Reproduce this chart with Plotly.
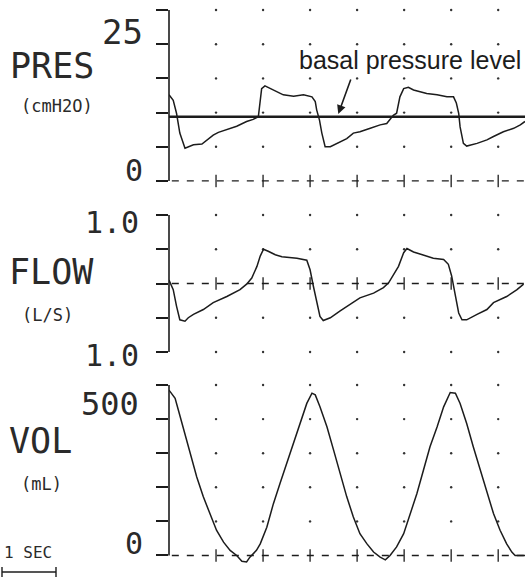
import plotly.graph_objects as go
import numpy as np

# ---------------- data ----------------
T_END = 7.57
GRID_SECONDS = [1, 2, 3, 4, 5, 6, 7]

PRES_TICKS = [0, 5, 10, 15, 20, 25]
FLOW_TICKS = [-1.0, -0.5, 0.0, 0.5, 1.0]
VOL_TICKS = [0, 100, 200, 300, 400, 500]

BASAL_PRESSURE = 9.4

pres_t = [0.0, 0.09, 0.16, 0.23, 0.34, 0.41, 0.52, 0.70, 0.80, 0.94, 1.05, 1.23, 1.44, 1.65,
          1.79, 1.90, 1.94, 1.97, 2.04, 2.15, 2.29, 2.43, 2.65, 2.86, 3.04, 3.11, 3.14, 3.20,
          3.25, 3.32, 3.43, 3.57, 3.78, 3.92, 4.06, 4.28, 4.49, 4.63, 4.74, 4.77, 4.84, 4.91,
          4.99, 5.09, 5.20, 5.34, 5.48, 5.70, 5.91, 6.05, 6.11, 6.16, 6.19, 6.26, 6.33, 6.55,
          6.76, 6.90, 7.11, 7.33, 7.47, 7.57]
pres_v = [12.6, 11.8, 9.9, 7.0, 4.8, 5.0, 5.3, 5.4, 6.0, 6.7, 7.1, 7.5, 8.0, 8.7,
          9.0, 9.4, 11.4, 13.5, 13.9, 13.5, 13.1, 12.6, 12.4, 12.6, 12.3, 11.6, 10.4, 8.9,
          7.0, 5.0, 5.0, 5.5, 6.2, 7.0, 7.2, 7.7, 8.2, 8.4, 9.4, 9.6, 9.9, 12.3,
          13.5, 13.7, 13.3, 13.1, 12.8, 12.6, 12.3, 12.3, 11.4, 9.9, 7.9, 5.5, 5.1, 5.5,
          6.0, 6.5, 7.2, 7.7, 8.2, 8.7]

flow_t = [0.0, 0.09, 0.16, 0.23, 0.34, 0.41, 0.52, 0.73, 0.94, 1.23, 1.51, 1.65, 1.76, 1.87,
          1.94, 2.01, 2.11, 2.26, 2.40, 2.54, 2.72, 2.93, 3.00, 3.07, 3.14, 3.21, 3.28, 3.43,
          3.64, 3.85, 4.06, 4.35, 4.56, 4.67, 4.77, 4.88, 4.99, 5.06, 5.20, 5.41, 5.62, 5.84,
          5.94, 6.01, 6.09, 6.16, 6.23, 6.33, 6.55, 6.76, 6.90, 7.18, 7.40, 7.54]
flow_v = [0.05, -0.09, -0.33, -0.53, -0.55, -0.50, -0.45, -0.38, -0.28, -0.19, -0.09, -0.01, 0.08, 0.25,
          0.40, 0.50, 0.47, 0.42, 0.39, 0.38, 0.37, 0.34, 0.20, -0.04, -0.28, -0.48, -0.54, -0.50,
          -0.40, -0.31, -0.21, -0.14, -0.06, 0.01, 0.13, 0.25, 0.45, 0.51, 0.46, 0.42, 0.37, 0.35,
          0.28, 0.11, -0.19, -0.43, -0.53, -0.53, -0.45, -0.38, -0.28, -0.19, -0.09, -0.01]

vol_t = [0.0, 0.13, 0.20, 0.30, 0.45, 0.59, 0.73, 0.87, 1.01, 1.16, 1.30, 1.44, 1.55, 1.65,
         1.72, 1.86, 1.94, 2.08, 2.22, 2.36, 2.50, 2.65, 2.79, 2.93, 3.04, 3.11, 3.21, 3.36,
         3.50, 3.64, 3.78, 3.92, 4.06, 4.21, 4.35, 4.49, 4.60, 4.70, 4.84, 4.99, 5.13, 5.27,
         5.41, 5.55, 5.70, 5.84, 5.98, 6.09, 6.19, 6.33, 6.47, 6.62, 6.76, 6.90, 7.04, 7.18,
         7.29, 7.36, 7.57]
vol_v = [485, 461, 426, 377, 299, 230, 172, 123, 74, 39, 15, 0, -17, -19,
         -5, 15, 34, 83, 152, 211, 270, 328, 387, 446, 476, 471, 436, 377,
         309, 240, 172, 113, 64, 34, 10, -5, -13, 0, 25, 64, 123, 181,
         250, 319, 377, 436, 478, 476, 446, 387, 319, 250, 181, 123, 74, 34,
         10, 0, 0]

# ---------------- layout geometry ----------------
W, H = 525, 580
ML, MR, MT, MB = 169, 0, 10, 16
PW, PH = W - ML - MR, H - MT - MB

def px_x(px):
    return (px - ML) / PW

def px_y(py):
    return (H - MB - py) / PH

INK = "#1c1c1c"
MONO = "DejaVu Sans Mono"

PRES_RANGE = [-1, 25]
FLOW_RANGE = [-1.0, 1.0]
VOL_RANGE = [-25, 500]

panels = [
    ("y", PRES_RANGE, PRES_TICKS, [px_y(187.8), 1.0]),
    ("y2", FLOW_RANGE, FLOW_TICKS, [px_y(352), px_y(215)]),
    ("y3", VOL_RANGE, VOL_TICKS, [0.0, px_y(385)]),
]

fig = go.Figure()

line_style = dict(color=INK, width=1.5)

for yid, rng, ticks, dom in panels:
    rows = [v for v in ticks if v != 0]
    gx, gy = np.meshgrid(GRID_SECONDS, rows)
    fig.add_trace(go.Scatter(x=gx.ravel(), y=gy.ravel(), mode="markers", yaxis=yid,
                             marker=dict(size=2.4, color="#333"), cliponaxis=False,
                             hoverinfo="skip", showlegend=False))
    fig.add_trace(go.Scatter(x=[0.06, T_END], y=[0, 0], mode="lines", yaxis=yid,
                             line=dict(color=INK, width=1.3, dash="7px,8px"),
                             hoverinfo="skip", showlegend=False))
    fig.add_trace(go.Scatter(x=GRID_SECONDS, y=[0] * len(GRID_SECONDS), mode="markers", yaxis=yid,
                             marker=dict(symbol="line-ns", size=9, line=dict(color=INK, width=1.3)),
                             hoverinfo="skip", showlegend=False))

fig.add_trace(go.Scatter(x=[0, T_END], y=[BASAL_PRESSURE, BASAL_PRESSURE], mode="lines",
                         yaxis="y", line=dict(color=INK, width=2.6), showlegend=False))

fig.add_trace(go.Scatter(x=pres_t, y=pres_v, mode="lines", yaxis="y", line=line_style, showlegend=False))
fig.add_trace(go.Scatter(x=flow_t, y=flow_v, mode="lines", yaxis="y2", line=line_style, showlegend=False))
fig.add_trace(go.Scatter(x=vol_t, y=vol_v, mode="lines", yaxis="y3", line=line_style, showlegend=False))

shapes = []
for yid, rng, ticks, dom in panels:
    f0 = (min(ticks) - rng[0]) / (rng[1] - rng[0])
    f1 = (max(ticks) - rng[0]) / (rng[1] - rng[0])
    shapes.append(dict(type="line", xref="x domain", yref=yid + " domain", x0=0, x1=0,
                       y0=f0, y1=f1, line=dict(color=INK, width=1.6)))

shapes.append(dict(type="line", xref="paper", yref="paper", x0=px_x(2), x1=px_x(56),
                   y0=px_y(572), y1=px_y(572), line=dict(color=INK, width=1.4)))
for bx in (2, 56):
    shapes.append(dict(type="line", xref="paper", yref="paper", x0=px_x(bx), x1=px_x(bx),
                       y0=px_y(567), y1=px_y(577), line=dict(color=INK, width=1.4)))

def label(text, cx, cy, size):
    return dict(text=text, x=px_x(cx), y=px_y(cy), xref="paper", yref="paper",
                xanchor="center", yanchor="middle", showarrow=False,
                font=dict(family=MONO, size=size, color="#2a2a2a"))

annotations = [
    label("25", 122, 32, 34),
    label("PRES", 52, 66, 35),
    label("(cmH2O)", 57, 106, 17),
    label("0", 134, 170, 30),
    label("1.0", 112, 222, 30),
    label("FLOW", 52, 272, 35),
    label("(L/S)", 47, 315, 17),
    label("1.0", 112, 355, 30),
    label("500", 110, 404, 32),
    label("VOL", 40, 441, 35),
    label("(mL)", 41, 484, 17),
    label("0", 134, 543, 30),
    label("1 SEC", 28, 552, 16),
    dict(text="basal pressure level", x=px_x(410), y=px_y(60), xref="paper", yref="paper",
         xanchor="center", yanchor="middle", showarrow=False,
         font=dict(family="Liberation Sans", size=25, color=INK)),
    dict(text="", x=3.60, y=BASAL_PRESSURE + 0.4, xref="x", yref="y", showarrow=True,
         ax=13, ay=-36, arrowhead=2, arrowsize=1.1, arrowwidth=1.6, arrowcolor=INK),
]

yaxis_common = dict(ticks="outside", ticklen=12, tickwidth=1.5, tickcolor=INK,
                    showticklabels=False, showgrid=False, zeroline=False, showline=False,
                    anchor="x", fixedrange=True)

fig.update_layout(
    width=W, height=H,
    margin=dict(l=ML, r=MR, t=MT, b=MB),
    paper_bgcolor="white", plot_bgcolor="white",
    showlegend=False,
    hovermode=False,
    xaxis=dict(range=[0, T_END], visible=False, anchor="y3", fixedrange=True),
    yaxis=dict(range=PRES_RANGE, tickvals=PRES_TICKS, domain=panels[0][3], **yaxis_common),
    yaxis2=dict(range=FLOW_RANGE, tickvals=FLOW_TICKS, domain=panels[1][3], **yaxis_common),
    yaxis3=dict(range=VOL_RANGE, tickvals=VOL_TICKS, domain=panels[2][3], **yaxis_common),
    shapes=shapes,
    annotations=annotations,
)

fig.write_html("out.html", config={"displayModeBar": False},
               post_script="document.body.style.margin='0';document.documentElement.style.overflow='hidden';")
